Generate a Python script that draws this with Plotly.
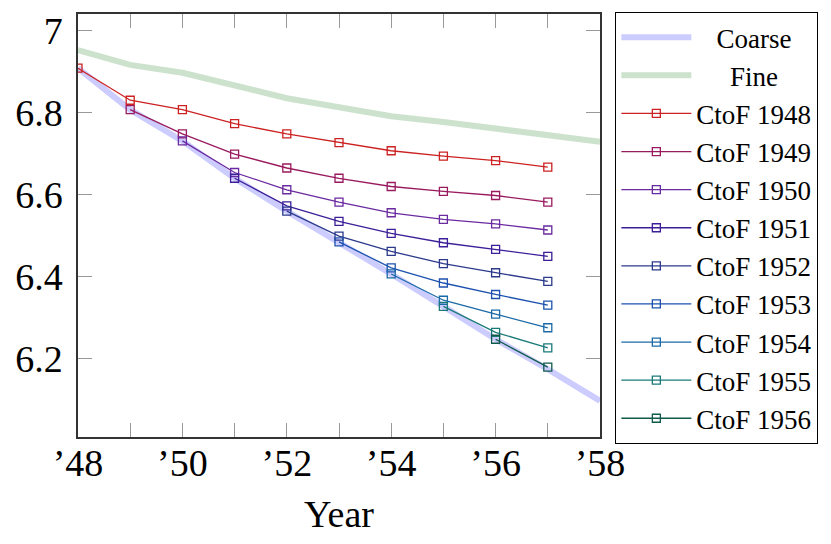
import plotly.graph_objects as go

years = [1948, 1949, 1950, 1951, 1952, 1953, 1954, 1955, 1956, 1957, 1958]

coarse = [6.908, 6.807, 6.731, 6.640, 6.560, 6.485, 6.407, 6.328, 6.248, 6.175, 6.098]
fine = [6.952, 6.916, 6.897, 6.867, 6.835, 6.813, 6.791, 6.777, 6.761, 6.743, 6.729]

# each CtoF run starts at its own year and ends in 1957
ctof = {
    1948: [6.908, 6.830, 6.807, 6.773, 6.748, 6.727, 6.707, 6.694, 6.683, 6.667],
    1949: [6.807, 6.748, 6.699, 6.665, 6.640, 6.620, 6.608, 6.598, 6.582],
    1950: [6.731, 6.654, 6.612, 6.582, 6.556, 6.540, 6.529, 6.514],
    1951: [6.640, 6.573, 6.535, 6.506, 6.483, 6.467, 6.450],
    1952: [6.560, 6.499, 6.462, 6.432, 6.410, 6.389],
    1953: [6.485, 6.422, 6.385, 6.357, 6.331],
    1954: [6.407, 6.343, 6.309, 6.276],
    1955: [6.328, 6.265, 6.227],
    1956: [6.248, 6.180],
}

ctof_colors = ['#cc2222', '#991a5e', '#6a2aa0', '#3c1e98', '#2c3a8c',
               '#1c52ae', '#1b6aa8', '#1a7a78', '#0f5a4a']

x_ticks = [1948, 1949, 1950, 1951, 1952, 1953, 1954, 1955, 1956, 1957, 1958]
x_labels = ['’48', '', '’50', '', '’52', '', '’54', '', '’56', '', '’58']
y_ticks = [6.2, 6.4, 6.6, 6.8, 7.0]
y_labels = ['6.2', '6.4', '6.6', '6.8', '7']

FONT = 'Liberation Serif, Times New Roman, serif'
nb = '\u00a0'

fig = go.Figure()

fig.add_trace(go.Scatter(
    x=years, y=coarse, mode='lines', name=nb * 3 + 'Coarse',
    line=dict(color='#ccccff', width=6),
))
fig.add_trace(go.Scatter(
    x=years, y=fine, mode='lines', name=nb * 5 + 'Fine',
    line=dict(color='#cce2cc', width=6),
))

for (start, vals), col in zip(ctof.items(), ctof_colors):
    xs = years[years.index(start):years.index(start) + len(vals)]
    fig.add_trace(go.Scatter(
        x=xs, y=vals, mode='lines+markers', name=f'CtoF {start}',
        line=dict(color=col, width=1.3),
        marker=dict(symbol='square-open', size=8, color=col, line=dict(width=1.3)),
    ))

# page body has an 8px margin, so the figure is a bit smaller than the window
fig.update_layout(
    width=823, height=536,
    margin=dict(l=70, r=231, t=2, b=107),
    paper_bgcolor='white', plot_bgcolor='white',
    font=dict(family=FONT, color='black', size=38),
    showlegend=True,
    legend=dict(
        x=1.029, y=1.0047, xanchor='left', yanchor='top',
        bordercolor='black', borderwidth=1.2, bgcolor='white',
        font=dict(family=FONT, size=27, color='black'),
        tracegroupgap=0, itemwidth=70, maxheight=530,
    ),
)

fig.update_xaxes(
    range=[1948, 1958], tickvals=x_ticks, ticktext=x_labels,
    ticks='inside', ticklen=14, tickcolor='#999999', tickwidth=1,
    showline=True, linecolor='#333333', linewidth=1.5, mirror='ticks',
    showgrid=False, zeroline=False,
    title=dict(text='Year', font=dict(family=FONT, size=38), standoff=17),
    tickfont=dict(family=FONT, size=38), ticklabelstandoff=-8,
)
fig.update_yaxes(
    range=[6.01, 7.04], tickvals=y_ticks, ticktext=y_labels,
    ticks='inside', ticklen=14, tickcolor='#999999', tickwidth=1,
    showline=True, linecolor='#333333', linewidth=1.5, mirror='ticks',
    showgrid=False, zeroline=False,
    tickfont=dict(family=FONT, size=38), ticklabelstandoff=6,
    ticklabeloverflow='allow',
)

fig.write_html("out.html")
